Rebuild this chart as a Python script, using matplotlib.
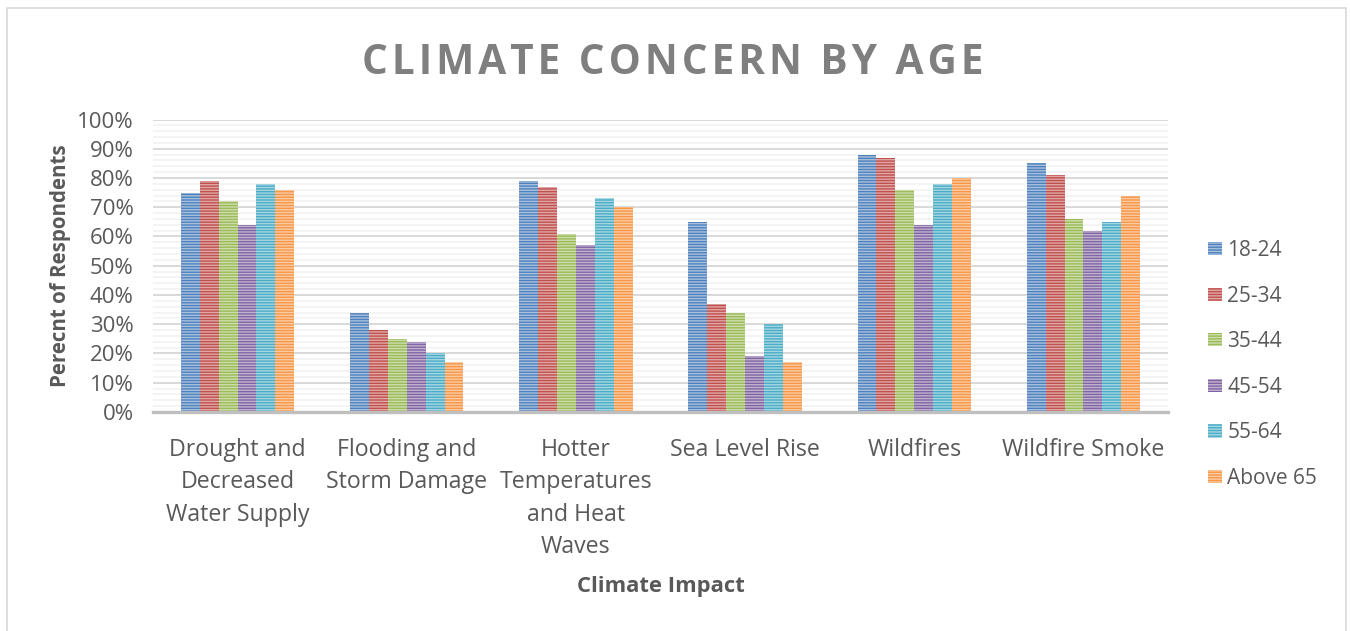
import numpy as np
import matplotlib.pyplot as plt
from matplotlib.colors import to_rgb
from matplotlib.ticker import MultipleLocator, PercentFormatter

plt.rcParams['font.family'] = ['Open Sans', 'DejaVu Sans']
plt.rcParams['hatch.linewidth'] = 1.0

categories = ["Drought and\nDecreased\nWater Supply", "Flooding and\nStorm Damage",
              "Hotter\nTemperatures\nand Heat\nWaves", "Sea Level Rise",
              "Wildfires", "Wildfire Smoke"]
age_groups = ["18-24", "25-34", "35-44", "45-54", "55-64", "Above 65"]

v_18_24 = [75, 34, 79, 65, 88, 85]
v_25_34 = [79, 28, 77, 37, 87, 81]
v_35_44 = [72, 25, 61, 34, 76, 66]
v_45_54 = [64, 24, 57, 19, 64, 62]
v_55_64 = [78, 20, 73, 30, 78, 65]
v_65_up = [76, 17, 70, 17, 80, 74]
series = [v_18_24, v_25_34, v_35_44, v_45_54, v_55_64, v_65_up]

colors = ["#4F81BD", "#C0504D", "#9BBB59", "#8064A2", "#4BACC6", "#F79646"]
text_col = "#595959"
title = "CLIMATE CONCERN BY AGE"


def lighter(c, amt=0.5):
    r = np.array(to_rgb(c))
    return tuple(r + (1 - r) * amt)


fig = plt.figure(figsize=(13.5, 6.31), dpi=100)
ax = fig.add_axes([0.1133, 0.3471, 0.7519, 0.4635])

x = np.arange(len(categories))
w = 0.1117
for i, (vals, c) in enumerate(zip(series, colors)):
    ax.bar(x + (i - 2.5) * w, vals, w, color=c, edgecolor=lighter(c),
           linewidth=0, hatch='------', label=age_groups[i], zorder=3)

ax.set_xlim(-0.5, len(categories) - 0.5)
ax.set_ylim(0, 100)
ax.yaxis.set_major_locator(MultipleLocator(10))
ax.yaxis.set_minor_locator(MultipleLocator(2))
ax.yaxis.set_major_formatter(PercentFormatter(decimals=0))
ax.grid(axis='y', which='minor', color='#F2F2F2', linewidth=1.2, zorder=0)
ax.grid(axis='y', which='major', color='#D9D9D9', linewidth=1.4, zorder=1)

for s in ['top', 'right', 'left']:
    ax.spines[s].set_visible(False)
ax.spines['bottom'].set_color('#BFBFBF')
ax.spines['bottom'].set_linewidth(2.4)
ax.spines['bottom'].set_zorder(4)

ax.set_xticks(x)
ax.set_xticklabels(categories, fontsize=16.7, color=text_col, linespacing=1.47)
ax.tick_params(axis='x', length=0, pad=18.5)
ax.tick_params(axis='y', which='both', length=0, labelsize=16, labelcolor=text_col, pad=14)

ax.set_ylabel("Perecnt of Respondents", fontsize=14.8, fontweight='bold', color=text_col, labelpad=4)
fig.text(0.4896, 0.071, "Climate Impact", fontsize=15.8, fontweight='bold', color=text_col,
         ha='center', va='center')

# letter spaced title, hair spaces between letters
fig.text(0.4985, 0.9, "\u200a".join(title), fontsize=29.2, fontweight='bold',
         color='#7F7F7F', ha='center', va='center')

fig.legend(loc='center left', bbox_to_anchor=(0.8807, 0.4225), frameon=False,
           fontsize=15, labelcolor=text_col, handlelength=0.7, handleheight=0.6,
           handletextpad=0.25, labelspacing=1.18)

fig.add_artist(plt.Rectangle((0.0052, -0.05), 0.9919, 1.037, transform=fig.transFigure,
                             fill=False, edgecolor='#D9D9D9', linewidth=1.2))

fig.savefig("out.png", dpi=100)
